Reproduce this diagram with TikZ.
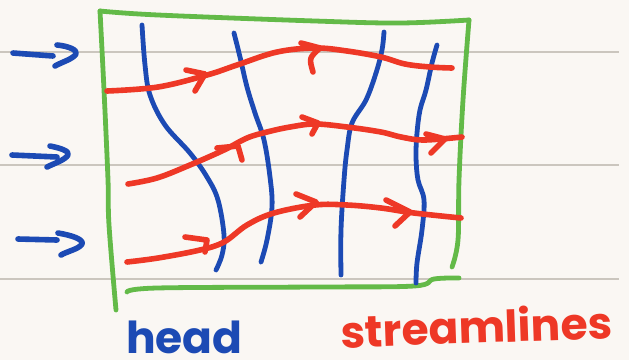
\documentclass[tikz,border=0pt]{standalone}
\usepackage{fontspec}
\newfontfamily\hand{Poppins}
\definecolor{paper}{HTML}{FAF7F3}
\definecolor{rulegray}{HTML}{CBC6BE}
\definecolor{inkblue}{HTML}{1C4AB4}
\definecolor{inkred}{HTML}{EE3826}
\definecolor{inkgreen}{HTML}{63BA48}
\begin{document}
\begin{tikzpicture}[x=1pt,y=-1pt,
  ruleline/.style={draw=rulegray,line width=1.5pt},
  boxline/.style={draw=inkgreen,line width=4.8pt,line cap=round,line join=round},
  equi/.style={draw=inkblue,line width=4.8pt,line cap=round,line join=round},
  stream/.style={draw=inkred,line width=5.6pt,line cap=round,line join=round},
  inflow/.style={draw=inkblue,line width=5.6pt,line cap=round,line join=round},
  hand label/.style={anchor=base west,inner sep=0pt,text depth=0pt},
  sm/.style={smooth,tension=0.6}]
\fill[paper] (0,0) rectangle (629,360);
\useasboundingbox (0,0) rectangle (629,360);
% ruled paper lines
\draw[ruleline] (0,52) -- (619,52);
\draw[ruleline] (0,165) -- (619,165);
\draw[ruleline] (0,279) -- (619,279);
% green box
\draw[boxline] plot[sm] coordinates {(116,310) (109,225) (108,180) (104,90) (100,11)};
\draw[boxline] plot[sm] coordinates {(100,11) (158,15) (315,21) (400,23) (469,20)};
\draw[boxline] plot[sm] coordinates {(469,20) (463,100) (459,180) (458,240) (452,267)};
\draw[boxline] plot[sm] coordinates {(127,292) (157,288) (315,287) (414,286) (434,279) (459,278)};
% blue equipotential lines
\draw[equi] plot[sm] coordinates {(142,25) (145,65) (150,95) (165,125) (190,153) (207,177) (218,200) (224,235) (222,255) (216,270)};
\draw[equi] plot[sm] coordinates {(234,33) (240,57) (247,87) (255,113) (264,140) (270,177) (272,207) (267,240) (261,262)};
\draw[equi] plot[sm] coordinates {(384,32) (382,50) (376,73) (366,100) (352,123) (347,150) (344,180) (341,230) (341,275)};
\draw[equi] plot[sm] coordinates {(437,45) (432,63) (426,90) (420,110) (417,133) (416,157) (418,180) (424,200) (422,230) (417,263) (416,283)};
% red streamlines
\draw[stream] plot[sm] coordinates {(107,91) (158,87) (207,75) (237,65) (277,52) (315,48) (347,51) (381,57) (405,64) (430,67) (452,68)};
\draw[stream] plot[sm] coordinates {(128,184) (157,178) (190,165) (224,150) (247,138) (267,132) (290,127) (315,124) (347,127) (381,132) (401,137) (424,140) (462,137)};
\draw[stream] plot[sm] coordinates {(127,262) (158,258) (200,250) (224,242) (247,225) (274,213) (315,205) (347,205) (381,208) (414,213) (461,218)};
% red arrowheads
\draw[stream] (186,70) -- (205,74) -- (195,91);
\draw[stream] (301,43) -- (320,48) .. controls (309,58) .. (313,72);
\draw[stream] (217,148) -- (238,146) -- (242,160);
\draw[stream] (302,117) -- (318,123) -- (312,134);
\draw[stream] (426,134) -- (445,139) -- (431,153);
\draw[stream] (185,237) -- (207,240) -- (205,252);
\draw[stream] (296,194) -- (316,202) -- (300,217);
\draw[stream] (386,200) -- (410,212) -- (395,226);
% blue inflow arrows
\draw[inflow] (13,53) -- (53,56);
\draw[inflow] (57,45) .. controls (68,46) and (78,50) .. (76,54) .. controls (73,59) and (62,62) .. (55,66);
\draw[inflow] (12,155) -- (57,157);
\draw[inflow] (50,146) .. controls (60,148) and (70,151) .. (68,155) .. controls (65,160) and (55,163) .. (47,167);
\draw[inflow] (18,239) -- (57,240);
\draw[inflow] (58,233) .. controls (70,235) and (84,239) .. (82,244) .. controls (79,249) and (68,251) .. (61,255);
% labels
\node[hand label,text=inkblue,font=\hand\bfseries\fontsize{44}{44}\selectfont] (lblhead) at (126,353) {head};
\node[hand label,text=inkred,rotate=2,font=\hand\bfseries\fontsize{44}{44}\selectfont] (lblstream) at (341,348) {streamlines};
\end{tikzpicture}
\end{document}
